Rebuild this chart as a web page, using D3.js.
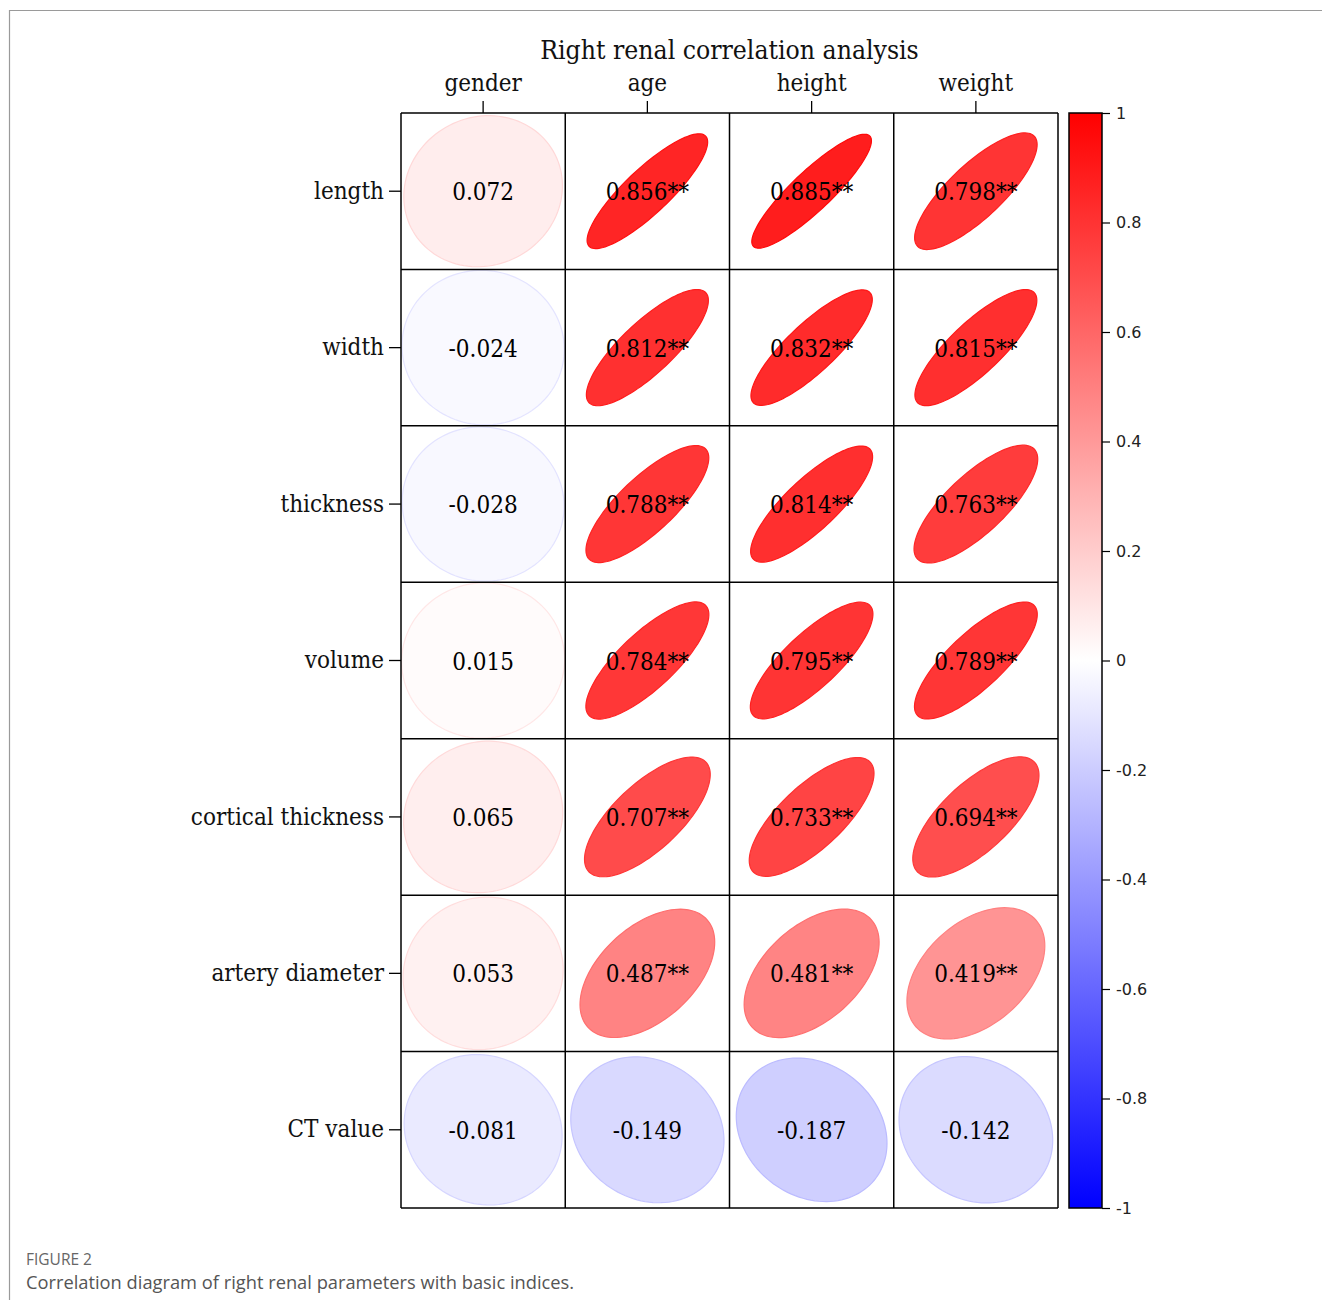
<!DOCTYPE html>
<html>
<head>
<meta charset="utf-8">
<script src="https://cdn.jsdelivr.net/npm/d3@7"></script>
<style>
  html, body { margin: 0; padding: 0; background: #fff; }
  svg { display: block; }
  .serif { font-family: 'DejaVu Serif Condensed', 'DejaVu Serif', serif; font-stretch: condensed; }
</style>
</head>
<body>
<svg id="chart" width="1322" height="1300"></svg>
<script>
// ---- data ----
const rowNames = ["length", "width", "thickness", "volume", "cortical thickness", "artery diameter", "CT value"];
const colNames = ["gender", "age", "height", "weight"];
const rLength   = [0.072, 0.856, 0.885, 0.798];
const rWidth    = [-0.024, 0.812, 0.832, 0.815];
const rThick    = [-0.028, 0.788, 0.814, 0.763];
const rVolume   = [0.015, 0.784, 0.795, 0.789];
const rCortical = [0.065, 0.707, 0.733, 0.694];
const rArtery   = [0.053, 0.487, 0.481, 0.419];
const rCT       = [-0.081, -0.149, -0.187, -0.142];
const sigLength   = ["", "**", "**", "**"];
const sigWidth    = ["", "**", "**", "**"];
const sigThick    = ["", "**", "**", "**"];
const sigVolume   = ["", "**", "**", "**"];
const sigCortical = ["", "**", "**", "**"];
const sigArtery   = ["", "**", "**", "**"];
const sigCT       = ["", "", "", ""];
const colorTicks = [1, 0.8, 0.6, 0.4, 0.2, 0, -0.2, -0.4, -0.6, -0.8, -1];
const titleText = "Right renal correlation analysis";
const figLabel = "FIGURE 2";
const captionText = "Correlation diagram of right renal parameters with basic indices.";

const matrix = [rLength, rWidth, rThick, rVolume, rCortical, rArtery, rCT];
const sigs = [sigLength, sigWidth, sigThick, sigVolume, sigCortical, sigArtery, sigCT];

const cells = [];
rowNames.forEach((rn, i) => colNames.forEach((cn, j) => {
  cells.push({ row: rn, col: cn, r: matrix[i][j], sig: sigs[i][j] });
}));

// ---- layout ----
const svg = d3.select("#chart");
const gridL = 401, gridR = 1058, gridT = 113, gridB = 1208;

const x = d3.scaleBand().domain(colNames).range([gridL, gridR]).padding(0);
const y = d3.scaleBand().domain(rowNames).range([gridT, gridB]).padding(0);
const color = d3.scaleLinear().domain([-1, 0, 1]).range(["#0000ff", "#ffffff", "#ff0000"]);

// outer frame (figure border)
svg.append("path")
  .attr("d", "M9.5,1300 L9.5,10.5 L1322,10.5")
  .attr("fill", "none").attr("stroke", "#9a9a9a").attr("stroke-width", 1.2);

// title
svg.append("text").attr("class", "serif")
  .attr("x", (gridL + gridR) / 2).attr("y", 59)
  .attr("text-anchor", "middle")
  .attr("font-size", 26.3).attr("fill", "#111")
  .text(titleText);

// ellipses
const bw = x.bandwidth(), bh = y.bandwidth();
const tSteps = d3.range(0, 121).map(k => k / 120 * 2 * Math.PI);
function ellipsePath(d) {
  const cx = x(d.col) + bw / 2, cy = y(d.row) + bh / 2;
  const ar = Math.abs(d.r);
  const a = 1.0;
  const b = Math.sqrt((1 - ar) / (1 + ar));
  const s = d.r >= 0 ? 1 : -1;
  const pts = tSteps.map(t => {
    const p = a * Math.cos(t), q = b * Math.sin(t);
    const u = (p - s * q) / Math.SQRT2;
    const v = (s * p + q) / Math.SQRT2;
    return [cx + u * bw / 2, cy - v * bh / 2];
  });
  return d3.line().curve(d3.curveLinearClosed)(pts);
}

svg.append("g").selectAll("path.ell").data(cells).join("path")
  .attr("class", "ell")
  .attr("d", ellipsePath)
  .attr("fill", d => color(d.r))
  .attr("stroke", d => color(Math.sign(d.r) * Math.min(1, Math.abs(d.r) + 0.08)))
  .attr("stroke-width", 1.2);

// grid
const lines = svg.append("g").attr("stroke", "#000").attr("stroke-width", 1.5);
colNames.concat(["__end"]).forEach((c, j) => {
  const xx = j < colNames.length ? x(c) : gridR;
  lines.append("line").attr("x1", xx).attr("x2", xx).attr("y1", gridT).attr("y2", gridB);
});
rowNames.concat(["__end"]).forEach((r, i) => {
  const yy = i < rowNames.length ? y(r) : gridB;
  lines.append("line").attr("x1", gridL).attr("x2", gridR).attr("y1", yy).attr("y2", yy);
});

// value labels
svg.append("g").selectAll("text").data(cells).join("text")
  .attr("class", "serif")
  .attr("x", d => x(d.col) + bw / 2)
  .attr("y", d => y(d.row) + bh / 2 + 9)
  .attr("text-anchor", "middle")
  .attr("font-size", 24).attr("fill", "#000")
  .text(d => d.r.toFixed(3) + d.sig);

// axes
const xAxis = svg.append("g").attr("transform", `translate(0,${gridT})`)
  .call(d3.axisTop(x).tickSize(12).tickPadding(10));
xAxis.select(".domain").remove();
xAxis.selectAll("text").attr("class", "serif")
  .attr("font-size", 24).attr("fill", "#111");
xAxis.selectAll("line").attr("stroke", "#000").attr("stroke-width", 1.3);

const yAxis = svg.append("g").attr("transform", `translate(${gridL},0)`)
  .call(d3.axisLeft(y).tickSize(12).tickPadding(5));
yAxis.select(".domain").remove();
yAxis.selectAll("text").attr("class", "serif")
  .attr("font-size", 24).attr("fill", "#111");
yAxis.selectAll("line").attr("stroke", "#000").attr("stroke-width", 1.3);
svg.selectAll("g").attr("font-family", null);

// colorbar
const cbL = 1069, cbW = 33;
const cbScale = d3.scaleLinear().domain([-1, 1]).range([gridB, gridT]);
const defs = svg.append("defs");
const grad = defs.append("linearGradient").attr("id", "cbgrad")
  .attr("x1", 0).attr("y1", 1).attr("x2", 0).attr("y2", 0);
d3.range(0, 21).map(k => -1 + k * 0.1).forEach(v => {
  grad.append("stop").attr("offset", (v + 1) / 2).attr("stop-color", color(v));
});
svg.append("rect")
  .attr("x", cbL).attr("y", cbScale(1)).attr("width", cbW)
  .attr("height", cbScale(-1) - cbScale(1))
  .attr("fill", "url(#cbgrad)").attr("stroke", "#000").attr("stroke-width", 1.5);
const cbAxis = svg.append("g").attr("transform", `translate(${cbL + cbW},0)`)
  .call(d3.axisRight(cbScale).tickValues(colorTicks).tickSize(8).tickPadding(6)
    .tickFormat(d => String(+d.toFixed(1))));
cbAxis.select(".domain").remove();
cbAxis.selectAll("text").attr("font-family", "'DejaVu Sans', sans-serif")
  .attr("font-size", 16).attr("fill", "#222");
cbAxis.selectAll("line").attr("stroke", "#000").attr("stroke-width", 1.2);

// caption
svg.append("text")
  .attr("x", 26).attr("y", 1265)
  .attr("font-family", "'Open Sans', sans-serif").attr("font-size", 15.5)
  .attr("fill", "#666").text(figLabel);
svg.append("text")
  .attr("x", 26).attr("y", 1289)
  .attr("font-family", "'Open Sans', sans-serif").attr("font-size", 18.3)
  .attr("fill", "#555").text(captionText);
</script>
</body>
</html>
